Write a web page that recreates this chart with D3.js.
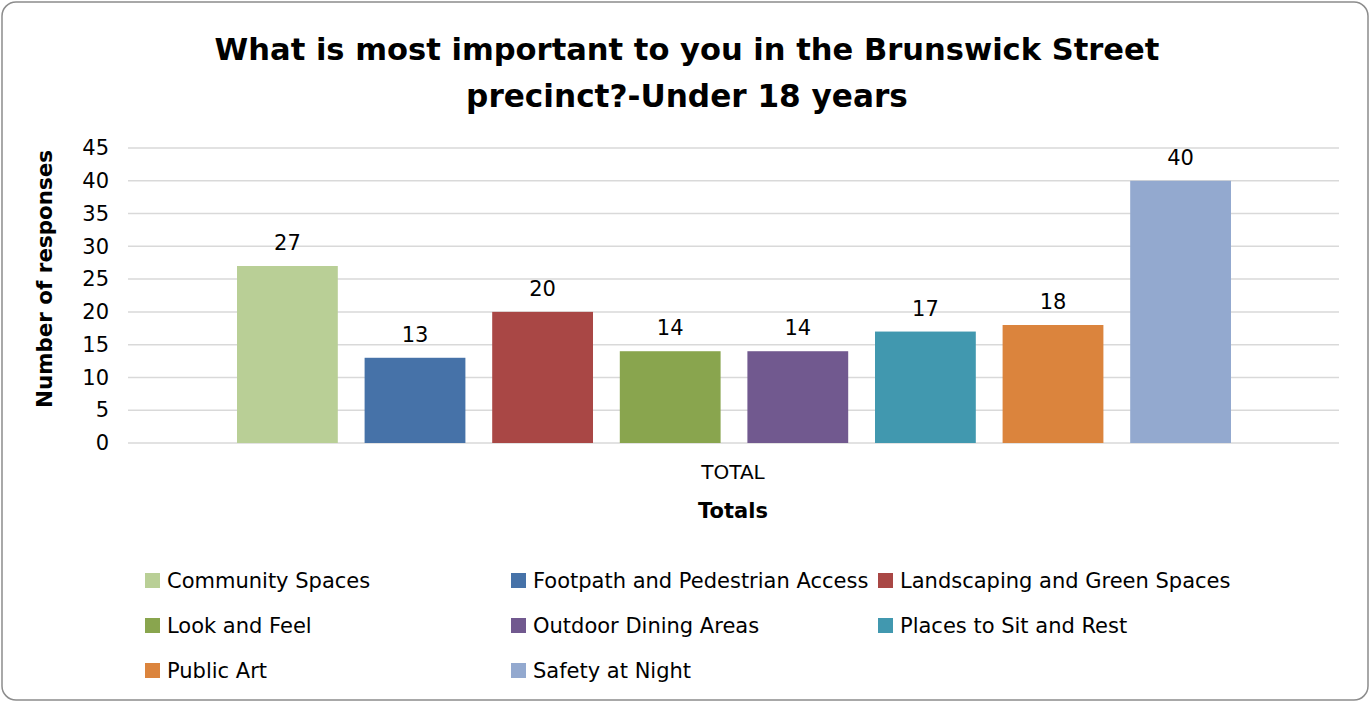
<!DOCTYPE html>
<html>
<head>
<meta charset="utf-8">
<script src="https://cdn.jsdelivr.net/npm/d3@7"></script>
<style>
  body { margin: 0; background: #fff; }
  text { font-family: "DejaVu Sans", sans-serif; fill: #000; }
</style>
</head>
<body>
<div id="chart"></div>
<script>
// data
const categories = ["TOTAL"];
const seriesNames = [
  "Community Spaces",
  "Footpath and Pedestrian Access",
  "Landscaping and Green Spaces",
  "Look and Feel",
  "Outdoor Dining Areas",
  "Places to Sit and Rest",
  "Public Art",
  "Safety at Night"
];
const seriesValues = [27, 13, 20, 14, 14, 17, 18, 40];
const yTicks = [0, 5, 10, 15, 20, 25, 30, 35, 40, 45];
const colors = ["#b9cf96", "#4672a8", "#a94745", "#89a54e", "#71598f", "#4198af", "#db843d", "#93a9cf"];

const width = 1371, height = 703;
const svg = d3.select("#chart").append("svg")
  .attr("width", width)
  .attr("height", height);

// outer frame
svg.append("rect")
  .attr("x", 2).attr("y", 2)
  .attr("width", width - 5).attr("height", height - 5)
  .attr("rx", 14).attr("ry", 14)
  .attr("fill", "#fff")
  .attr("stroke", "#8c8c8c")
  .attr("stroke-width", 1.5);

// fit a text element to a target width by changing its font size
const fitWidth = (sel, target) => {
  const node = sel.node();
  const fs = parseFloat(sel.attr("font-size"));
  const w = node.getComputedTextLength();
  sel.attr("font-size", (fs * target / w).toFixed(2));
};

// title
const t1 = svg.append("text")
  .attr("x", 687).attr("y", 60)
  .attr("text-anchor", "middle")
  .attr("font-size", 34).attr("font-weight", "bold")
  .text("What is most important to you in the Brunswick Street");
fitWidth(t1, 945);
const t2 = svg.append("text")
  .attr("x", 687).attr("y", 107)
  .attr("text-anchor", "middle")
  .attr("font-size", 34).attr("font-weight", "bold")
  .text("precinct?-Under 18 years");
fitWidth(t2, 442);

// scales
const x0 = d3.scaleBand().domain(categories).range([128, 1339]);
const x1 = d3.scaleBand().domain(seriesNames).range([237, 1231]).paddingInner(0.21);
const y = d3.scaleLinear().domain([0, 45]).range([443, 148]);

// gridlines
svg.append("g")
  .selectAll("line")
  .data(yTicks)
  .join("line")
  .attr("x1", 128).attr("x2", 1339)
  .attr("y1", d => y(d)).attr("y2", d => y(d))
  .attr("stroke", "#d9d9d9")
  .attr("stroke-width", 1.5);

// y axis
const yAxis = svg.append("g")
  .attr("transform", "translate(109,0)")
  .call(d3.axisLeft(y).tickValues(yTicks).tickSize(0).tickPadding(0));
yAxis.select(".domain").remove();
yAxis.selectAll("text")
  .attr("font-size", 21)
  .attr("font-family", "DejaVu Sans, sans-serif")
  .attr("fill", "#000");

// x axis
const xAxis = svg.append("g")
  .attr("transform", "translate(0,443)")
  .call(d3.axisBottom(x0).tickSize(0).tickPadding(22));
xAxis.select(".domain").remove();
xAxis.selectAll("text")
  .attr("font-size", 20)
  .attr("font-family", "DejaVu Sans, sans-serif")
  .attr("fill", "#000")
  .attr("dx", -0.5);

// axis titles
const yTitle = svg.append("text")
  .attr("transform", "translate(52,279) rotate(-90)")
  .attr("text-anchor", "middle")
  .attr("font-size", 20).attr("font-weight", "bold")
  .text("Number of responses");
fitWidth(yTitle, 258);
svg.append("text")
  .attr("x", 733).attr("y", 518)
  .attr("text-anchor", "middle")
  .attr("font-size", 21).attr("font-weight", "bold")
  .text("Totals");

// bars
const rows = seriesNames.map((name, i) => ({ name, value: seriesValues[i], color: colors[i] }));
svg.append("g")
  .selectAll("rect")
  .data(rows)
  .join("rect")
  .attr("x", d => x1(d.name))
  .attr("y", d => y(d.value))
  .attr("width", x1.bandwidth())
  .attr("height", d => y(0) - y(d.value))
  .attr("fill", d => d.color);

// data labels
svg.append("g")
  .selectAll("text")
  .data(rows)
  .join("text")
  .attr("x", d => x1(d.name) + x1.bandwidth() / 2)
  .attr("y", d => y(d.value) - 16)
  .attr("text-anchor", "middle")
  .attr("font-size", 21)
  .text(d => d.value);

// legend
const legendCols = [145, 511, 878];
const legendRows = [580, 625, 670];
const legend = svg.append("g")
  .selectAll("g")
  .data(rows)
  .join("g")
  .attr("transform", (d, i) => `translate(${legendCols[i % 3]},${legendRows[Math.floor(i / 3)]})`);
legend.append("rect")
  .attr("x", 0).attr("y", -7)
  .attr("width", 15).attr("height", 15)
  .attr("fill", d => d.color);
legend.append("text")
  .attr("x", 22).attr("y", 8)
  .attr("font-size", 21)
  .text(d => d.name);
</script>
</body>
</html>
